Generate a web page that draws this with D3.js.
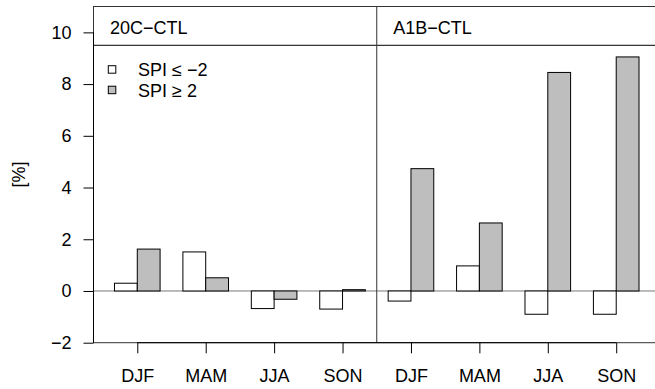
<!DOCTYPE html>
<html>
<head>
<meta charset="utf-8">
<script src="https://cdn.jsdelivr.net/npm/d3@7"></script>
<style>
  body { margin: 0; background: #fff; }
  text { font-family: "Liberation Sans", Arial, Helvetica, sans-serif; fill: #000; }
</style>
</head>
<body>
<div id="vis"></div>
<script>
// SPI extremes, change in frequency [%] per season
const seasons = ['DJF', 'MAM', 'JJA', 'SON', 'DJF', 'MAM', 'JJA', 'SON']
const panels = ['20C\u2212CTL', 'A1B\u2212CTL']
const spiLow = [0.30, 1.51, -0.68, -0.70, -0.39, 0.97, -0.90, -0.90]   // SPI <= -2
const spiHigh = [1.62, 0.51, -0.32, 0.05, 4.73, 2.63, 8.45, 9.05]     // SPI >= 2
const yTicks = [-2, 0, 2, 4, 6, 8, 10]
const legendLabels = ['SPI \u2264 \u22122', 'SPI \u2265 2']
const fills = ['#ffffff', '#bebebe']

const W = 655, H = 389
const margin = { top: 6.5, right: -5, bottom: 46.3, left: 93.5 }
const width = W - margin.left - margin.right
const height = H - margin.top - margin.bottom

// barplot units: each group = 2 bars + 1 space, like R's barplot(beside=TRUE)
const xScale = d3.scaleLinear().domain([0.08, 24.92]).range([0, width])
const yScale = d3.scaleLinear().domain([-2, 11]).range([height, 0])

const svg = d3.select('#vis')
    .append('svg')
    .attr('width', W)
    .attr('height', H)
    .append('g')
    .attr('transform', `translate(${margin.left},${margin.top})`)

function drawFrame(){
    // zero line
    svg.append('line')
        .attr('x1', 0).attr('x2', width)
        .attr('y1', yScale(0)).attr('y2', yScale(0))
        .style('stroke', '#777').style('stroke-width', 1)

    // strip line for panel titles
    svg.append('line')
        .attr('x1', 0).attr('x2', width)
        .attr('y1', yScale(9.5)).attr('y2', yScale(9.5))
        .style('stroke', '#000').style('stroke-width', 1)

    // divider between panels
    svg.append('line')
        .attr('x1', xScale(12.5)).attr('x2', xScale(12.5))
        .attr('y1', 0).attr('y2', height)
        .style('stroke', '#333').style('stroke-width', 1)

    svg.selectAll('.panelTitle')
        .data(panels)
        .enter()
        .append('text')
        .attr('class', 'panelTitle')
        .attr('x', (d, i) => xScale(0.8 + i * 12.42))
        .attr('y', yScale(9.92))
        .style('font-size', '18px')
        .text(d => d)

    // box
    svg.append('rect')
        .attr('x', 0).attr('y', 0)
        .attr('width', width).attr('height', height)
        .style('fill', 'none')
        .style('stroke', '#333').style('stroke-width', 1)
}

function drawBars(){
    const bars = []
    seasons.forEach((s, g) => {
        bars.push({ g: g, k: 0, v: spiLow[g] })
        bars.push({ g: g, k: 1, v: spiHigh[g] })
    })

    svg.selectAll('.bar')
        .data(bars)
        .enter()
        .append('rect')
        .attr('class', 'bar')
        .attr('x', d => xScale(1 + 3 * d.g + d.k))
        .attr('width', d => xScale(2 + 3 * d.g + d.k) - xScale(1 + 3 * d.g + d.k))
        .attr('y', d => yScale(Math.max(0, d.v)))
        .attr('height', d => Math.abs(yScale(d.v) - yScale(0)))
        .style('fill', d => fills[d.k])
        .style('stroke', '#000')
        .style('stroke-width', 1)
}

function drawAxes(){
    const yAxis = d3.axisLeft(yScale)
        .tickValues(yTicks)
        .tickFormat(d => d < 0 ? '\u2212' + Math.abs(d) : d)
        .tickSize(10)
        .tickPadding(12)
    const gy = svg.append('g').attr('class', 'axis').call(yAxis)
    gy.select('.domain').remove()
    gy.selectAll('line').style('stroke', '#000')
    gy.selectAll('text').style('font-size', '18px').style('font-family', '"Liberation Sans", Arial, sans-serif')

    // R style axis line: first tick to last tick
    svg.append('line')
        .attr('x1', 0).attr('x2', 0)
        .attr('y1', yScale(-2)).attr('y2', yScale(10))
        .style('stroke', '#000')

    const centers = seasons.map((s, g) => 2 + 3 * g)
    const xAxis = d3.axisBottom(xScale)
        .tickValues(centers)
        .tickFormat((d, i) => seasons[i])
        .tickSize(10.6)
        .tickPadding(16)
    const gx = svg.append('g')
        .attr('class', 'axis')
        .attr('transform', `translate(0,${height})`)
        .call(xAxis)
    gx.select('.domain').remove()
    gx.selectAll('line').style('stroke', '#000')
    gx.selectAll('text').style('font-size', '18px').style('font-family', '"Liberation Sans", Arial, sans-serif')

    svg.append('line')
        .attr('x1', xScale(centers[0])).attr('x2', xScale(centers[centers.length - 1]))
        .attr('y1', height).attr('y2', height)
        .style('stroke', '#000')

    // y label
    svg.append('text')
        .attr('transform', 'rotate(-90)')
        .attr('x', -height / 2)
        .attr('y', -margin.left + 25)
        .attr('text-anchor', 'middle')
        .style('font-size', '18px')
        .text('[%]')
}

function addLegend(){
    const size = 7.5
    svg.selectAll('.legendSquare')
        .data(legendLabels)
        .enter()
        .append('rect')
        .attr('x', 108.3 - margin.left)
        .attr('y', (d, i) => 65.7 - margin.top + i * 20.5)
        .attr('width', size)
        .attr('height', size)
        .style('fill', (d, i) => fills[i])
        .style('stroke', '#000')
        .style('stroke-width', 1)

    svg.selectAll('.legendText')
        .data(legendLabels)
        .enter()
        .append('text')
        .attr('x', 138 - margin.left)
        .attr('y', (d, i) => 76 - margin.top + i * 20.7)
        .style('font-size', '18px')
        .text(d => d)
}

drawFrame()
drawBars()
drawAxes()
addLegend()
</script>
</body>
</html>
